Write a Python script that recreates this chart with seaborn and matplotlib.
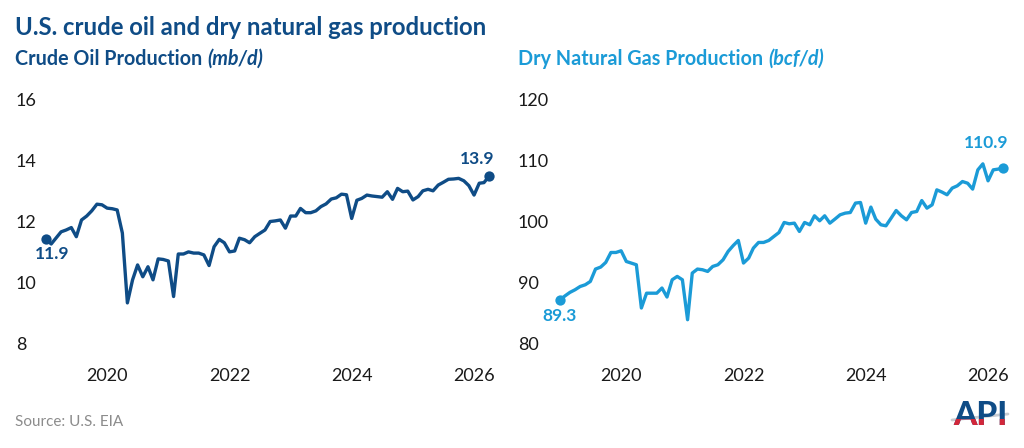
import pandas as pd
import matplotlib.pyplot as plt
import matplotlib.dates as mdates
from matplotlib.patches import Rectangle
import seaborn as sns

# Monthly series, Jan 2019 onward
months = pd.date_range('2019-01-01', periods=88, freq='MS')

crude_oil = [11.42, 11.26, 11.45, 11.66, 11.72, 11.80, 11.50, 12.05, 12.18, 12.35,
             12.57, 12.55, 12.44, 12.42, 12.38, 11.62, 9.32, 10.08, 10.57, 10.18,
             10.51, 10.08, 10.77, 10.75, 10.70, 9.53, 10.93, 10.93, 11.00, 10.96,
             10.96, 10.90, 10.55, 11.17, 11.41, 11.30, 11.00, 11.03, 11.45, 11.40,
             11.30, 11.50, 11.61, 11.72, 12.00, 12.02, 12.05, 11.78, 12.18, 12.18,
             12.43, 12.29, 12.29, 12.35, 12.49, 12.58, 12.74, 12.78, 12.90, 12.88,
             12.10, 12.70, 12.76, 12.87, 12.84, 12.82, 12.80, 12.98, 12.73, 13.09,
             12.98, 13.00, 12.71, 12.82, 13.01, 13.06, 13.01, 13.20, 13.29, 13.39,
             13.40, 13.42, 13.34, 13.18, 12.87, 13.26, 13.28, 13.49]

dry_gas = [87.12, 87.78, 88.33, 88.77, 89.30, 89.59, 90.13, 92.17, 92.50, 93.26,
           94.90, 94.90, 95.18, 93.42, 93.16, 92.88, 85.76, 88.20, 88.20, 88.20,
           89.05, 87.57, 90.41, 90.96, 90.41, 83.83, 91.51, 92.17, 92.06, 91.78,
           92.60, 92.88, 93.70, 95.07, 96.05, 96.88, 93.16, 93.98, 95.62, 96.55,
           96.55, 96.88, 97.53, 98.19, 99.84, 99.62, 99.73, 98.36, 99.84, 99.46,
           100.94, 100.12, 100.94, 99.73, 100.39, 101.10, 101.38, 101.48, 103.03, 103.13,
           99.73, 102.37, 100.39, 99.46, 99.29, 100.56, 101.81, 100.94, 100.28, 101.48,
           101.65, 103.45, 102.20, 102.75, 105.21, 104.84, 104.40, 105.50, 105.87, 106.58,
           106.30, 105.33, 108.50, 109.49, 106.70, 108.50, 108.62, 108.78]

oil_ticks = [8, 10, 12, 14, 16]
gas_ticks = [80, 90, 100, 110, 120]
year_ticks = pd.to_datetime(['2020-01-01', '2022-01-01', '2024-01-01', '2026-01-01'])

oil_end_labels = ['11.9', '13.9']
gas_end_labels = ['89.3', '110.9']

navy = '#0f4c86'
sky = '#1b9bd7'

df = pd.DataFrame({'month': months, 'oil': crude_oil, 'gas': dry_gas})

sns.set_theme(style='white')
plt.rcParams['font.family'] = ['Lato', 'DejaVu Sans']

W, H = 1024, 448
fig = plt.figure(figsize=(W / 100, H / 100), dpi=100)
ax1 = fig.add_axes([40 / W, 1 - 343 / H, 460 / W, 243 / H])
ax2 = fig.add_axes([554 / W, 1 - 343 / H, 460 / W, 243 / H])

panels = [
    (ax1, 'oil', navy, oil_ticks, oil_end_labels, 24, [(6, 15), (-12, -17)]),
    (ax2, 'gas', sky, gas_ticks, gas_end_labels, 36, [(0, 16), (-17, -25)]),
]

for ax, col, color, ticks, end_labels, ypad, offsets in panels:
    sns.lineplot(data=df, x='month', y=col, ax=ax, color=color, linewidth=2.4)
    ends = df.iloc[[0, -1]]
    ax.scatter(ends['month'], ends[col], s=55, color=color, zorder=3, linewidths=0)
    for (_, row), lab, (dx, dy) in zip(ends.iterrows(), end_labels, offsets):
        ax.annotate(lab, (row['month'], row[col]), xytext=(dx, -dy),
                    textcoords='offset pixels', ha='center', va='center',
                    fontsize=12.5, fontweight='bold', color=color)
    ax.set_ylim(ticks[0], ticks[-1])
    ax.set_yticks(ticks)
    ax.set_xlim(pd.Timestamp('2018-11-26'), pd.Timestamp('2026-06-05'))
    ax.set_xticks(year_ticks)
    ax.xaxis.set_major_formatter(mdates.DateFormatter('%Y'))
    ax.set_xlabel('')
    ax.set_ylabel('')
    ax.tick_params(axis='both', length=0, labelsize=13, labelcolor='#1a1a1a')
    ax.tick_params(axis='x', pad=18)
    ax.tick_params(axis='y', pad=ypad * 0.72)
    for t in ax.get_yticklabels():
        t.set_horizontalalignment('left')
    sns.despine(ax=ax, left=True, bottom=True)

# Titles
fig.text(15 / W, 1 - 35 / H, 'U.S. crude oil and dry natural gas production',
         fontsize=17.2, fontweight='bold', color=navy, va='baseline')

renderer = fig.canvas.get_renderer()
for x0, main, unit, color in [(15, 'Crude Oil Production', '(mb/d)', navy),
                              (518, 'Dry Natural Gas Production', '(bcf/d)', sky)]:
    t = fig.text(x0 / W, 1 - 65 / H, main, fontsize=14.2, fontweight='bold',
                 color=color, va='baseline')
    bb = t.get_window_extent(renderer)
    fig.text((bb.x1 + 5) / W, 1 - 65 / H, unit, fontsize=14.2, fontweight='bold',
             style='italic', color=color, va='baseline')

fig.text(15 / W, 1 - 422 / H, 'Source: U.S. EIA', fontsize=11, color='#8c8c8c', va='center')

# API logo: navy letters with a red base and a grey swoosh
logo_kw = dict(fontsize=24, fontweight='black', ha='center', va='baseline')
fig.text(980 / W, 1 - 425 / H, 'API', color=navy, **logo_kw)
red = fig.text(980 / W, 1 - 425 / H, 'API', color='#d2273a', **logo_kw)
red.set_clip_path(Rectangle((950 / W, 0), 60 / W, 29 / H, transform=fig.transFigure))
fig.add_artist(plt.Line2D([952 / W, 1008 / W], [1 - 420 / H, 1 - 414 / H],
                          transform=fig.transFigure, color='#c8ccd2', linewidth=2))

fig.savefig('out.png', dpi=100)
